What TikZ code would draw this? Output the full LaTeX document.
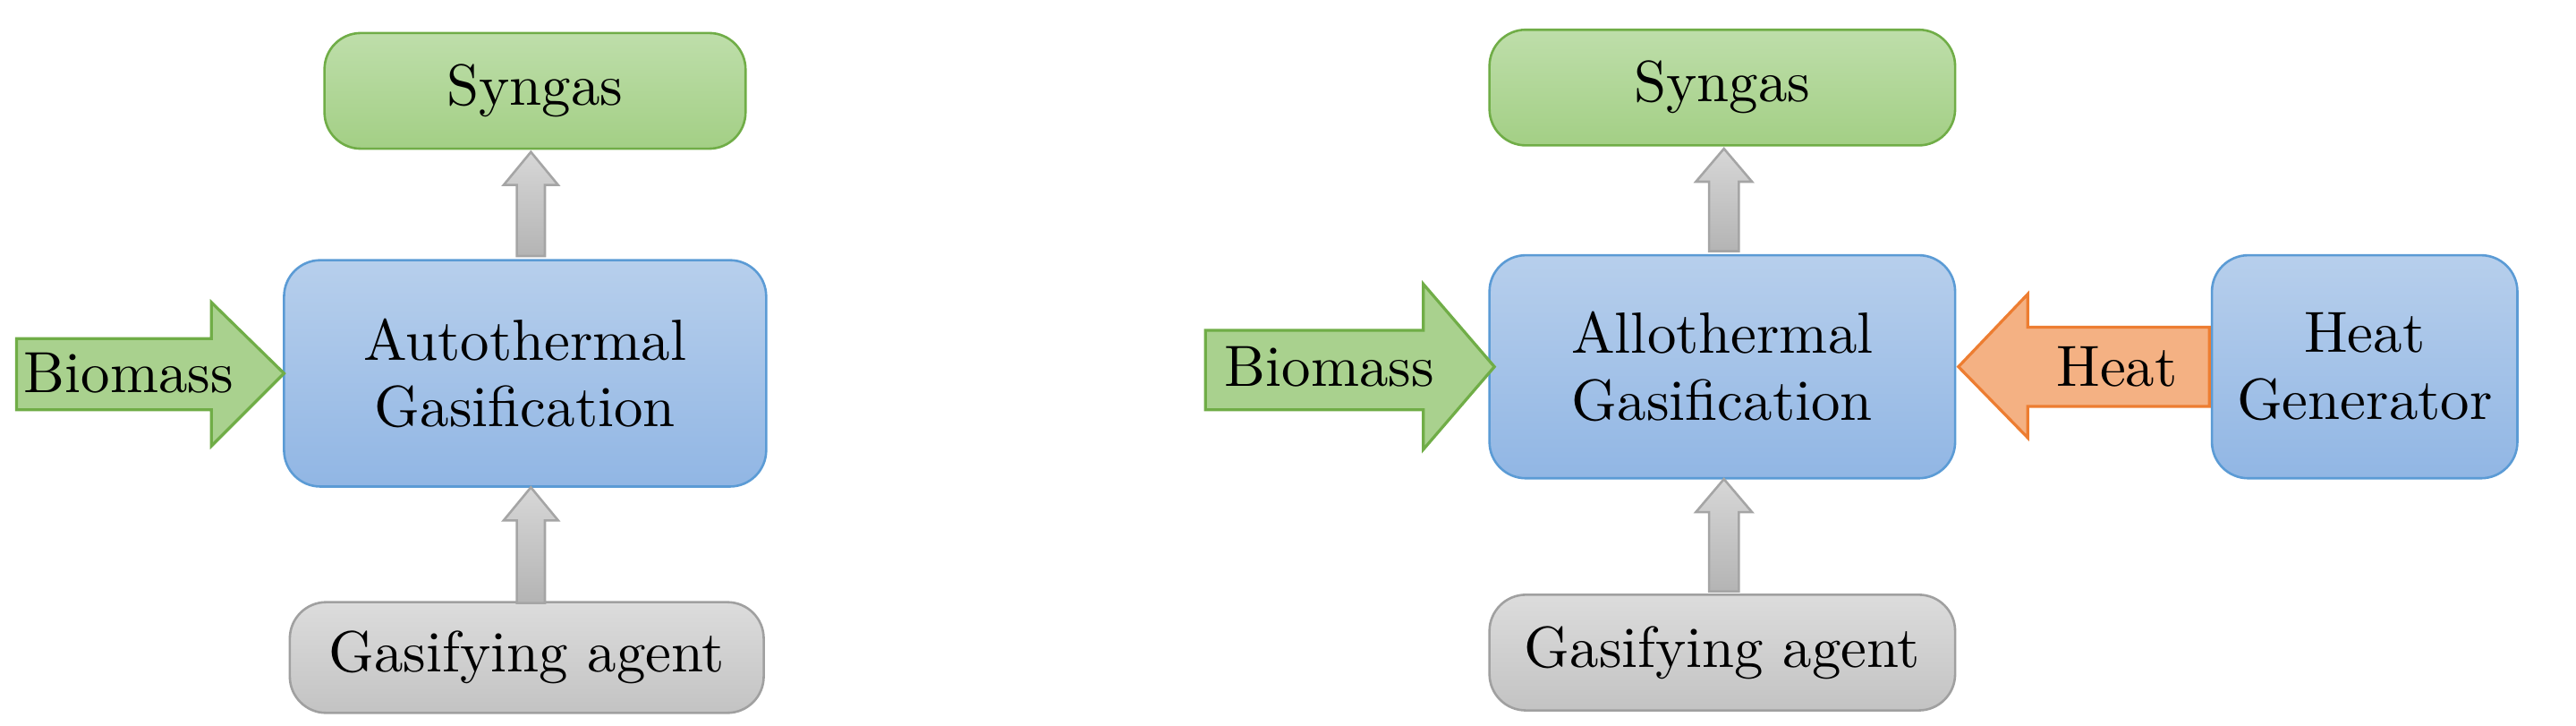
\documentclass[tikz,border=0pt]{standalone}
\begin{document}
\begin{tikzpicture}[x=0.1mm,y=-0.1mm,
  box/.style={rounded corners=2.2mm,line width=0.4pt,font=\fontsize{10}{11.5}\selectfont,align=center,inner sep=0pt},
  bl/.style={box,draw={rgb,255:red,91;green,155;blue,213},top color={rgb,255:red,183;green,207;blue,236},bottom color={rgb,255:red,145;green,182;blue,228}},
  gr/.style={box,draw={rgb,255:red,112;green,173;blue,71},top color={rgb,255:red,190;green,222;blue,170},bottom color={rgb,255:red,163;green,207;blue,133}},
  gy/.style={box,draw={rgb,255:red,160;green,160;blue,160},top color={rgb,255:red,220;green,220;blue,220},bottom color={rgb,255:red,195;green,195;blue,195}},
  gyar/.style={draw={rgb,255:red,165;green,165;blue,165},top color={rgb,255:red,215;green,215;blue,215},bottom color={rgb,255:red,180;green,180;blue,180},line width=0.4pt},
  grar/.style={draw={rgb,255:red,112;green,173;blue,71},fill={rgb,255:red,169;green,209;blue,142},line width=0.5pt},
  orar/.style={draw={rgb,255:red,237;green,125;blue,49},fill={rgb,255:red,244;green,177;blue,131},line width=0.5pt},
  lbl/.style={font=\fontsize{10}{11}\selectfont}]
\useasboundingbox (0,0) rectangle (1560,439);
% left
\node[gr,minimum width=25.5mm,minimum height=7mm] (s1) at (324,55) {Syngas};
\node[bl,minimum width=29.2mm,minimum height=13.7mm] (a1) at (318,226) {Autothermal\\Gasification};
\node[gy,minimum width=28.7mm,minimum height=6.7mm] (g1) at (319,398) {Gasifying agent};
\draw[gyar] (313,155)--(313,112)--(305,112)--(321.5,92)--(338,112)--(330,112)--(330,155)--cycle;
\draw[gyar] (313,365)--(313,315)--(305,315)--(321.5,295)--(338,315)--(330,315)--(330,365)--cycle;
\draw[grar] (10,205)--(128,205)--(128,183)--(172,226)--(128,270)--(128,248)--(10,248)--cycle;
\node[lbl] (b1) at (78,226) {Biomass};
% right
\node[gr,minimum width=28.2mm,minimum height=7mm] (s2) at (1043,53) {Syngas};
\node[bl,minimum width=28.2mm,minimum height=13.5mm] (a2) at (1043,222) {Allothermal\\Gasification};
\node[gy,minimum width=28.2mm,minimum height=7mm] (g2) at (1043,395) {Gasifying agent};
\node[bl,minimum width=18.5mm,minimum height=13.5mm] (h2) at (1432,222) {Heat\\Generator};
\draw[gyar] (1035,152)--(1035,110)--(1027,110)--(1044,90)--(1061,110)--(1053,110)--(1053,152)--cycle;
\draw[gyar] (1035,358)--(1035,310)--(1027,310)--(1044,290)--(1061,310)--(1053,310)--(1053,358)--cycle;
\draw[grar] (730,200)--(862,200)--(862,172)--(905,222)--(862,272)--(862,248)--(730,248)--cycle;
\node[lbl] (b2) at (805,222) {Biomass};
\draw[orar] (1338,198)--(1228,198)--(1228,178)--(1186,222)--(1228,265)--(1228,246)--(1338,246)--cycle;
\node[lbl] (ht) at (1282,222) {Heat};
\end{tikzpicture}
\end{document}
